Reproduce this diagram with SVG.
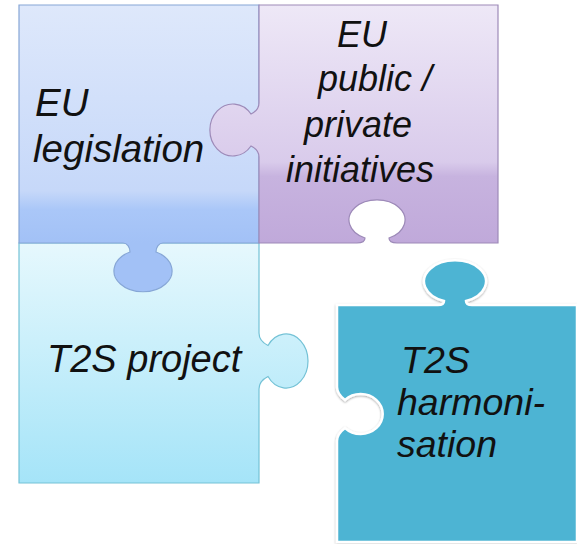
<svg xmlns="http://www.w3.org/2000/svg" width="577" height="544" viewBox="0 0 577 544">
  <defs>
    <linearGradient id="gBlue" gradientUnits="userSpaceOnUse" x1="0" y1="5" x2="0" y2="243">
      <stop offset="0" stop-color="#dee8fb"/>
      <stop offset="0.78" stop-color="#c6d8f9"/>
      <stop offset="0.86" stop-color="#aac7f8"/>
      <stop offset="1" stop-color="#a2c1f6"/>
    </linearGradient>
    <linearGradient id="gPurple" gradientUnits="userSpaceOnUse" x1="0" y1="5" x2="0" y2="243">
      <stop offset="0" stop-color="#eee8f7"/>
      <stop offset="0.66" stop-color="#d9cbeb"/>
      <stop offset="0.72" stop-color="#c7b3df"/>
      <stop offset="1" stop-color="#c0a9da"/>
    </linearGradient>
    <linearGradient id="gCyan" gradientUnits="userSpaceOnUse" x1="0" y1="243" x2="0" y2="483">
      <stop offset="0" stop-color="#e6f8fd"/>
      <stop offset="1" stop-color="#a5e4f8"/>
    </linearGradient>
    <filter id="shadow" x="-10%" y="-10%" width="120%" height="120%">
      <feDropShadow dx="0" dy="1" stdDeviation="1.2" flood-color="#000" flood-opacity="0.35"/>
    </filter>
  </defs>
  <style>
    .label { font-family: "Liberation Sans", Arial, sans-serif; font-style: italic; font-size: 38.5px; fill: #111; }
    .small { font-size: 36px; }
    .mid { font-size: 38px; }
    .teal { font-size: 37.5px; }
    .piece { stroke-width: 1.2; }
  </style>
  <rect width="577" height="544" fill="#ffffff"/>

  <g id="t2s-project">
    <path class="piece" fill="url(#gCyan)" stroke="#74c2d6" d="M19,243 H259 V333 C259,339 263,343 268,345.5 A22,27 0 1 1 268,376.5 C263,379 259,383 259,389 V483 H19 Z"/>
    <text class="label mid" x="47" y="372">T2S project</text>
  </g>

  <g id="eu-legislation">
    <path class="piece" fill="url(#gBlue)" stroke="#86a6d6" d="M19,5 H259 V243 H163 C159,243 156,247 156,252 A29,21 0 1 1 130,252 C130,247 127,243 123,243 H19 Z"/>
    <text class="label" x="35" y="116">EU</text>
    <text class="label" x="33" y="162">legislation</text>
  </g>

  <g id="eu-initiatives">
    <path class="piece" fill="url(#gPurple)" stroke="#9d8ab8" d="M259,5 H498 V243 H397 C392,243 389,241 389,238 A28,20 0 1 0 365,238 C365,241 362,243 357,243 H259 V157 C259,152 255,148 251,146 A23,26 0 1 1 251,114 C255,112 259,108 259,103 Z"/>
    <text class="label small" x="337" y="47">EU</text>
    <text class="label small" x="318" y="91">public /</text>
    <text class="label small" x="304" y="137">private</text>
    <text class="label small" x="286" y="182">initiatives</text>
  </g>

  <g id="t2s-harmonisation">
    <path fill="#4eb4d3" stroke="#ffffff" stroke-width="2.5" filter="url(#shadow)" d="M337,305 H438 C442,305 444,304 444,301 A31,21 0 1 1 466,301 C466,304 468,305 472,305 H577 V542 H337 V441 C337,435 341,431 345,428 A22,20 0 1 0 345,400 C341,397 337,393 337,387 Z"/>
    <text class="label teal" x="401" y="373">T2S</text>
    <text class="label teal" x="397" y="415">harmoni-</text>
    <text class="label teal" x="397" y="457">sation</text>
  </g>

  <g id="connectors"></g>
</svg>
